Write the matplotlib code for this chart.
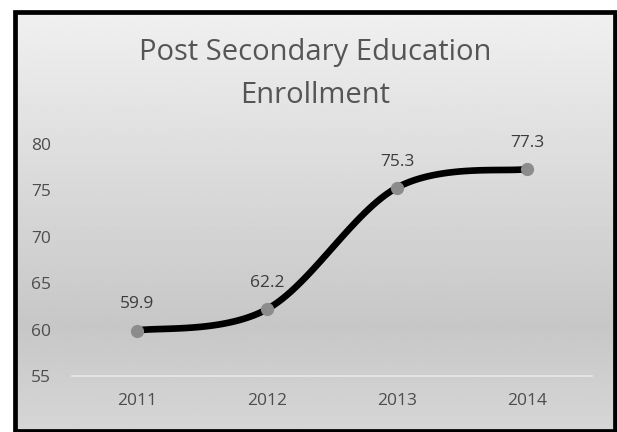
import numpy as np
import matplotlib.pyplot as plt
from matplotlib.patches import Rectangle

years = ['2011', '2012', '2013', '2014']
enrollment = [59.9, 62.2, 75.3, 77.3]
y_ticks = [55, 60, 65, 70, 75, 80]
title_lines = ['Post Secondary Education', 'Enrollment']

plt.rcParams['font.family'] = ['Open Sans', 'DejaVu Sans']

W, H = 617, 432
fig = plt.figure(figsize=(W / 100, H / 100), dpi=100)
fig.patch.set_facecolor('white')

# gradient background inside the black frame
bg = fig.add_axes([0, 0, 1, 1])
bg.set_xlim(0, W)
bg.set_ylim(H, 0)
bg.axis('off')
stops_y = [0, 0.15, 0.75, 1.0]
stops_v = [0.94, 0.91, 0.78, 0.84]
grad = np.interp(np.linspace(0, 1, 256), stops_y, stops_v)
img = np.repeat(grad[:, None], 2, axis=1)
bg.imshow(img, cmap='gray', vmin=0, vmax=1, aspect='auto',
          extent=[15, 614, 431, 12], interpolation='bilinear')
bg.add_patch(Rectangle((15, 12), 599.5, 419, fill=False, edgecolor='black', lw=3.4))
bg.text(W / 2 + 7, 60, title_lines[0], ha='center', va='baseline', fontsize=21,
        color='#555555')
bg.text(W / 2 + 7, 103, title_lines[1], ha='center', va='baseline', fontsize=21,
        color='#555555')


def smooth(xs, ys, n=40):
    # catmull-rom style bezier, like a spreadsheet "smoothed line"
    pts = np.column_stack([xs, ys]).astype(float)
    p = np.vstack([pts[0], pts, pts[-1]])
    out = []
    for i in range(1, len(p) - 2):
        p0, p1, p2, p3 = p[i - 1], p[i], p[i + 1], p[i + 2]
        c1 = p1 + (p2 - p0) / 6
        c2 = p2 - (p3 - p1) / 6
        t = np.linspace(0, 1, n)[:, None]
        seg = ((1 - t) ** 3) * p1 + 3 * ((1 - t) ** 2) * t * c1 + 3 * (1 - t) * t ** 2 * c2 + t ** 3 * p2
        out.append(seg)
    out = np.vstack(out)
    return out[:, 0], out[:, 1]


ax = fig.add_axes([72 / W, (H - 376) / H, (592 - 72) / W, (376 - 144) / H])
ax.set_facecolor('none')
x = np.arange(len(years))
sx, sy = smooth(x, enrollment)
ax.plot(sx, sy, color='black', lw=4.8, solid_capstyle='round', zorder=3)
ax.plot(x, enrollment, 'o', color='#8c8c8c', markersize=8.5, zorder=4)
for xi, v in zip(x, enrollment):
    ax.annotate(f'{v}', (xi, v), xytext=(0, 13), textcoords='offset points',
                ha='center', va='bottom', fontsize=12.5, color='#3c3c3c')

ax.set_xlim(-0.5, len(years) - 0.5)
ax.set_ylim(55, 80)
ax.set_yticks(y_ticks)
ax.set_yticklabels([str(t) for t in y_ticks])
ax.set_xticks(x)
ax.set_xticklabels(years)
for s in ['top', 'right', 'left']:
    ax.spines[s].set_visible(False)
ax.spines['bottom'].set_color('#e8e8e8')
ax.spines['bottom'].set_linewidth(1.2)
ax.tick_params(axis='both', length=0, labelsize=12.5, colors='#4d4d4d')
ax.tick_params(axis='x', pad=12)
ax.tick_params(axis='y', pad=0)
for lab in ax.get_yticklabels():
    lab.set_horizontalalignment('left')
    lab.set_x(-0.079)

fig.savefig('out.png', dpi=100, facecolor='white')
